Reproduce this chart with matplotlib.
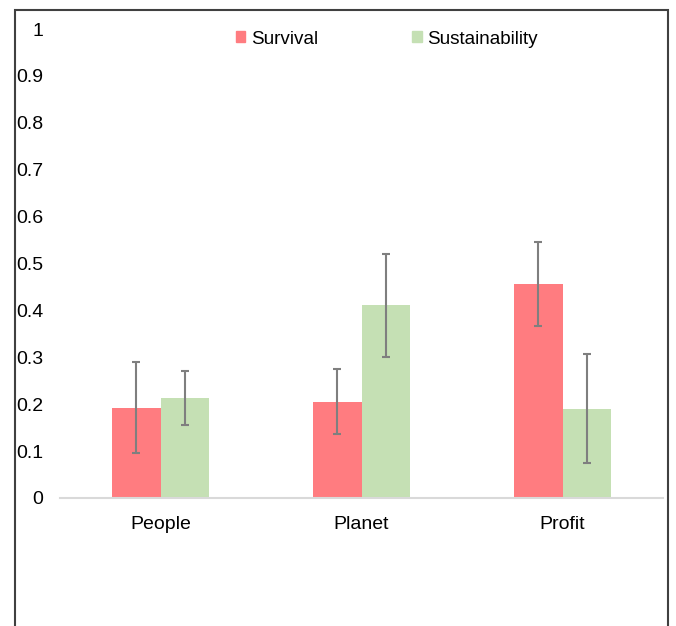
import numpy as np
import matplotlib.pyplot as plt
from matplotlib.patches import Patch, Rectangle

plt.rcParams['font.family'] = ['Liberation Sans', 'DejaVu Sans']

# Data
categories = ['People', 'Planet', 'Profit']
survival = [0.192, 0.205, 0.456]
survival_err = [0.097, 0.069, 0.090]
sustainability = [0.213, 0.411, 0.190]
sustainability_err = [0.057, 0.110, 0.116]
yticks = [0, 0.1, 0.2, 0.3, 0.4, 0.5, 0.6, 0.7, 0.8, 0.9, 1]
ytick_labels = ['0', '0.1', '0.2', '0.3', '0.4', '0.5', '0.6', '0.7', '0.8', '0.9', '1']

red = '#FF7C80'
green = '#C5E0B4'
err_kw = dict(ecolor='#7f7f7f', elinewidth=1.5, capsize=3, capthick=1.5)

fig = plt.figure(figsize=(6.76, 6.26), dpi=100)
ax = fig.add_axes([60/676, 1 - 498/626, 603/676, 469/626])

x = np.arange(len(categories))
w = 0.24
ax.bar(x - w/2, survival, w, yerr=survival_err, color=red, error_kw=err_kw, label='Survival')
ax.bar(x + w/2, sustainability, w, yerr=sustainability_err, color=green, error_kw=err_kw, label='Sustainability')

ax.set_xlim(-0.5, 2.5)
ax.set_ylim(0, 1)
ax.set_xticks(x)
ax.set_xticklabels(categories, fontsize=14)
ax.set_yticks(yticks)
ax.set_yticklabels(ytick_labels, fontsize=14)
ax.tick_params(length=0)
ax.tick_params(axis='y', pad=12)
ax.tick_params(axis='x', pad=13)
for s in ['top', 'right', 'left']:
    ax.spines[s].set_visible(False)
ax.spines['bottom'].set_color('#d9d9d9')
ax.spines['bottom'].set_linewidth(1.5)

handles = [Patch(color=red, label='Survival'), Patch(color=green, label='Sustainability')]
fig.legend(handles=handles, loc='center', bbox_to_anchor=(387/676, 1 - 39/626), ncol=2,
           frameon=False, fontsize=13.6, handlelength=0.5, handleheight=0.5,
           handletextpad=0.3, columnspacing=5.0)

# outer border around the figure
fig.add_artist(Rectangle((15/676, -0.1), 653/676, 1.1 - 10/626, transform=fig.transFigure,
                         fill=False, edgecolor='#404040', linewidth=1.5, clip_on=False))

fig.savefig('out.png', dpi=100)
